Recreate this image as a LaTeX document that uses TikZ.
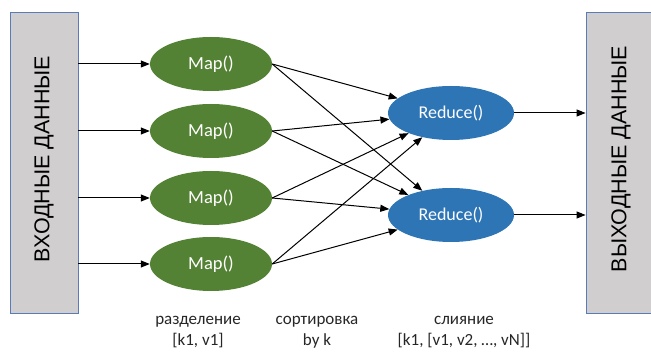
\documentclass[tikz,border=0pt]{standalone}
\usepackage{fontspec}
\setmainfont{Carlito}
\newfontfamily\boxfont{Liberation Sans}
\usetikzlibrary{arrows.meta,shapes.geometric}
\definecolor{mapgreen}{HTML}{548235}
\definecolor{redblue}{HTML}{2E75B6}
\definecolor{boxgray}{HTML}{D0CECE}
\definecolor{boxline}{HTML}{5B7BB8}

\begin{document}
\begin{tikzpicture}[x=1pt,y=-1pt,
    databox/.style={draw=boxline,fill=boxgray,line width=0.8pt,minimum width=68pt,minimum height=301pt,inner sep=0pt},
    mapnode/.style={ellipse,fill=mapgreen,text=white,minimum width=122pt,minimum height=54pt,inner sep=0pt,font=\fontsize{18.5}{20}\selectfont},
    rednode/.style={ellipse,fill=redblue,text=white,minimum width=126pt,minimum height=54pt,inner sep=0pt,font=\fontsize{18}{20}\selectfont},
    arr/.style={-{Triangle[length=9pt,width=7pt]},line width=1pt},
    lbl/.style={align=center,font=\fontsize{17}{21}\selectfont,text=black!85}]
\clip (0,0) rectangle (651,352);
\useasboundingbox (0,0) rectangle (651,352);
%\draw [help lines,step=50] (0,0) grid (651,352);
\node [databox] (in) at (44,162.5) {};
\node [rotate=90,font=\boxfont\fontsize{21.5}{24}\selectfont] at (44,159) {ВХОДНЫЕ ДАННЫЕ};
\node [databox,minimum width=70pt] (out) at (621,162.5) {};
\node [rotate=90,font=\boxfont\fontsize{21.5}{24}\selectfont] at (621,159) {ВЫХОДНЫЕ ДАННЫЕ};
% map
\node [mapnode] (map1) at (211,64) {Map()};
\node [mapnode] (map2) at (211,131) {Map()};
\node [mapnode] (map3) at (211,198) {Map()};
\node [mapnode] (map4) at (211,264) {Map()};
% reduce
\node [rednode] (red1) at (451,113) {Reduce()};
\node [rednode] (red2) at (451,215) {Reduce()};
\foreach \i in {1,...,4}{
  \draw [arr] (in.east |- map\i.west) -- (map\i.west);
  \draw [arr] (map\i.east) -- (red1);
  \draw [arr] (map\i.east) -- (red2);
}
\draw [arr] (red1.east) -- (red1.east -| out.west);
\draw [arr] (red2.east) -- (red2.east -| out.west);
% labels
\node [lbl] (split) at (198,332) {разделение\\{[}k1, v1{]}};
\node [lbl] (sort) at (317,332) {сортировка\\by k};
\node [lbl] (merge) at (464,332) {слияние\\{[}k1, {[}v1, v2, …, vN{]}{]}};
\end{tikzpicture}
\end{document}
